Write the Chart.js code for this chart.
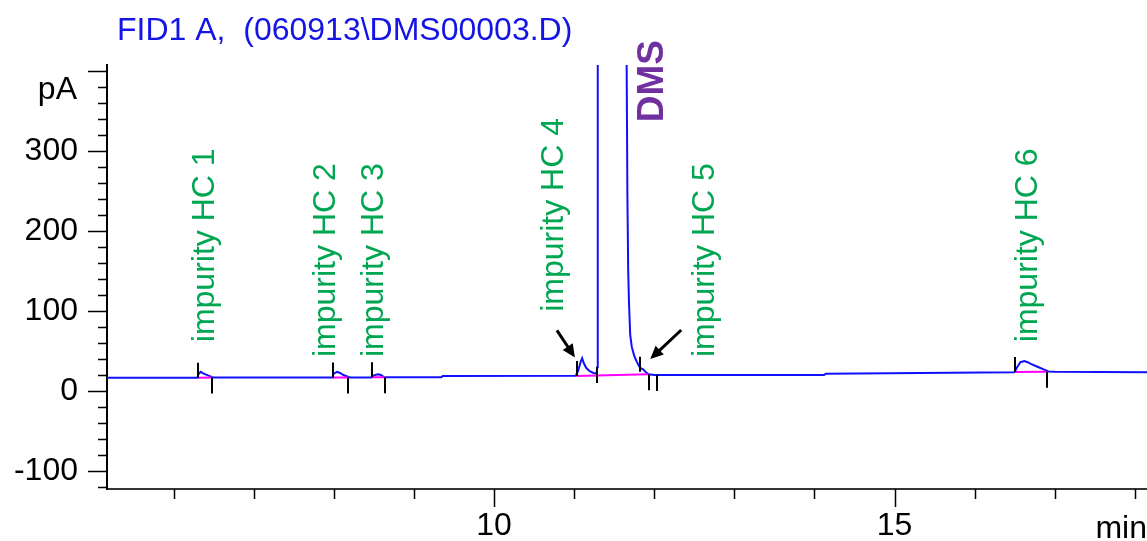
<!DOCTYPE html>
<html>
<head>
<meta charset="utf-8">
<script src="https://cdn.jsdelivr.net/npm/chart.js@4.4.0/dist/chart.umd.min.js"></script>
<style>
  html, body { margin: 0; padding: 0; background: #fff; }
  #wrap { width: 1147px; height: 541px; position: relative; }
</style>
</head>
<body>
<div id="wrap"><canvas id="fid"></canvas></div>
<script>
// FID trace, time in min, signal in pA (DMS goes off scale)
const times = [5.17, 6.30, 6.31, 6.34, 6.37, 6.43, 6.50, 7.98, 7.99, 8.04, 8.08, 8.12, 8.20,
  8.47, 8.50, 8.55, 8.59, 8.63, 9.34, 9.36, 11.02, 11.05, 11.08, 11.10, 11.12, 11.15, 11.19,
  11.24, 11.28, 11.29, 11.295, 11.65, 11.655, 11.665, 11.675, 11.685, 11.70, 11.72, 11.75,
  11.78, 11.81, 11.84, 11.86, 11.89, 11.93, 12.00, 14.12, 14.14, 16.49, 16.50, 16.53, 16.57,
  16.62, 16.66, 16.70, 16.79, 16.86, 16.92, 17.00, 18.15];
const signal = [16.5, 16.5, 21, 24, 22, 19.5, 16.8, 16.8, 21, 24, 22.5, 20, 17,
  17, 19.5, 21, 20, 17.2, 17.2, 18.6, 19, 25, 36, 41, 35, 29, 25,
  22.5, 22, 30, 1000, 1000, 420, 245, 150, 110, 70, 55, 44,
  37, 31, 28, 27, 24, 21, 20, 20, 21.5, 23.5, 24, 30, 36,
  37.5, 36, 34, 30, 27, 24.5, 24, 23.5];

// integration baselines
const intFrom = [6.306, 7.985, 8.48, 11.03, 16.50];
const intTo = [6.48, 8.18, 8.64, 11.93, 16.90];
const intFromVal = [16.6, 16.8, 17.2, 18.8, 23.8];
const intToVal = [16.8, 17.0, 17.2, 21, 24];

// peak start / end marks
const tickUpT = [6.306, 7.985, 8.48, 11.03, 11.82, 16.50];
const tickUpV = [16.6, 16.8, 17.2, 18.8, 24, 23.8];
const tickDownT = [6.48, 8.18, 8.64, 11.28, 11.93, 12.04, 16.90];
const tickDownV = [16.8, 17.0, 17.2, 30, 21, 20, 24];

// peak names
const peakNames = ['impurity HC 1', 'impurity HC 2', 'impurity HC 3', 'impurity HC 4', 'impurity HC 5', 'impurity HC 6'];
const peakLabelT = [6.40, 7.91, 8.50, 10.75, 12.64, 16.67];
const peakLabelV = [61, 42.5, 42.5, 99, 42.5, 61];
const mainPeak = 'DMS';
const mainPeakT = 11.98;
const mainPeakV = 336;

// arrows point at HC 4 and HC 5
const arrowT = [11.01, 11.95];
const arrowV = [42, 40];

const xTickLabels = [10, 15];
const yTickLabels = [-100, 0, 100, 200, 300];

const title = 'FID1 A,  (060913\\DMS00003.D)';

const FONT = '"Liberation Sans", Arial, sans-serif';

const lineData = times.map((t, i) => ({ x: t, y: signal[i] }));

const baselineSets = intFrom.map((t, i) => ({
  data: [{ x: t, y: intFromVal[i] }, { x: intTo[i], y: intToVal[i] }],
  showLine: true,
  borderColor: '#ff00ff',
  borderWidth: 2,
  pointRadius: 0
}));

const chromPlugin = {
  id: 'chrom',
  afterDraw(chart) {
    const { ctx, chartArea: a, scales: { x, y } } = chart;
    ctx.save();

    // axis tick marks
    ctx.strokeStyle = '#000';
    ctx.lineWidth = 1.5;
    ctx.beginPath();
    for (let i = -6; i <= 20; i++) {
      const py = Math.round(y.getPixelForValue(i * 20)) + 0.5;
      const len = i % 5 === 0 ? 19 : 9;
      ctx.moveTo(a.left - len, py);
      ctx.lineTo(a.left, py);
    }
    for (let m = 6; m <= 18; m++) {
      const px = Math.round(x.getPixelForValue(m)) + 0.5;
      const len = m % 5 === 0 ? 18 : 10;
      ctx.moveTo(px, a.bottom);
      ctx.lineTo(px, a.bottom + len);
    }
    ctx.stroke();

    // peak start/end marks
    ctx.lineWidth = 2;
    ctx.beginPath();
    tickUpT.forEach((t, i) => {
      const px = Math.round(x.getPixelForValue(t));
      const py = y.getPixelForValue(tickUpV[i]);
      ctx.moveTo(px, py);
      ctx.lineTo(px, py - 15);
    });
    tickDownT.forEach((t, i) => {
      const px = Math.round(x.getPixelForValue(t));
      const py = y.getPixelForValue(tickDownV[i]);
      ctx.moveTo(px, py);
      ctx.lineTo(px, py + 16);
    });
    ctx.stroke();

    // arrows
    const tails = [[-18, -27], [31, -29]];
    arrowT.forEach((t, i) => {
      const tx = x.getPixelForValue(t);
      const ty = y.getPixelForValue(arrowV[i]);
      const sx = tx + tails[i][0];
      const sy = ty + tails[i][1];
      const ang = Math.atan2(ty - sy, tx - sx);
      ctx.lineWidth = 3;
      ctx.beginPath();
      ctx.moveTo(sx, sy);
      ctx.lineTo(tx - 8 * Math.cos(ang), ty - 8 * Math.sin(ang));
      ctx.stroke();
      ctx.fillStyle = '#000';
      ctx.beginPath();
      ctx.moveTo(tx, ty);
      ctx.lineTo(tx - 13 * Math.cos(ang) + 6 * Math.sin(ang), ty - 13 * Math.sin(ang) - 6 * Math.cos(ang));
      ctx.lineTo(tx - 13 * Math.cos(ang) - 6 * Math.sin(ang), ty - 13 * Math.sin(ang) + 6 * Math.cos(ang));
      ctx.closePath();
      ctx.fill();
    });

    // rotated peak names
    ctx.fillStyle = '#00a651';
    ctx.font = '32px ' + FONT;
    ctx.textAlign = 'left';
    ctx.textBaseline = 'middle';
    peakNames.forEach((name, i) => {
      ctx.save();
      ctx.translate(x.getPixelForValue(peakLabelT[i]), y.getPixelForValue(peakLabelV[i]));
      ctx.rotate(-Math.PI / 2);
      ctx.fillText(name, 0, 0);
      ctx.restore();
    });
    ctx.save();
    ctx.fillStyle = '#7030a0';
    ctx.font = 'bold 37px ' + FONT;
    ctx.translate(x.getPixelForValue(mainPeakT), y.getPixelForValue(mainPeakV));
    ctx.rotate(-Math.PI / 2);
    ctx.fillText(mainPeak, 0, 0);
    ctx.restore();

    // title and units
    ctx.fillStyle = '#1414e6';
    ctx.font = '32px ' + FONT;
    ctx.textAlign = 'left';
    ctx.fillText(title, 117, 31);

    ctx.fillStyle = '#000';
    ctx.textAlign = 'right';
    ctx.fillText('pA', 77, 90);
    ctx.fillText('min', 1147, 529);

    ctx.restore();
  }
};

new Chart(document.getElementById('fid'), {
  type: 'scatter',
  data: {
    datasets: [
      ...baselineSets,
      {
        data: lineData,
        showLine: true,
        borderColor: '#1010ff',
        borderWidth: 2,
        pointRadius: 0,
        tension: 0
      }
    ]
  },
  options: {
    responsive: true,
    maintainAspectRatio: false,
    animation: false,
    events: [],
    layout: { padding: { top: 65, right: 0, left: 0, bottom: 0 } },
    plugins: {
      legend: { display: false },
      tooltip: { enabled: false }
    },
    scales: {
      x: {
        type: 'linear',
        min: 5.17,
        max: 18.15,
        grid: { display: false, drawTicks: false },
        border: { display: true, color: '#333', width: 2 },
        ticks: {
          color: '#000',
          padding: 18,
          font: { family: FONT, size: 32 }
        },
        afterBuildTicks: s => { s.ticks = xTickLabels.map(v => ({ value: v })); },
        afterFit: s => { s.height = 52; }
      },
      y: {
        min: -122.5,
        max: 407.5,
        grid: { display: false, drawTicks: false },
        border: { display: true, color: '#000', width: 2 },
        ticks: {
          color: '#000',
          padding: 29,
          font: { family: FONT, size: 32 }
        },
        afterBuildTicks: s => { s.ticks = yTickLabels.map(v => ({ value: v })); },
        afterFit: s => { s.width = 107; }
      }
    }
  },
  plugins: [chromPlugin]
});
</script>
</body>
</html>
